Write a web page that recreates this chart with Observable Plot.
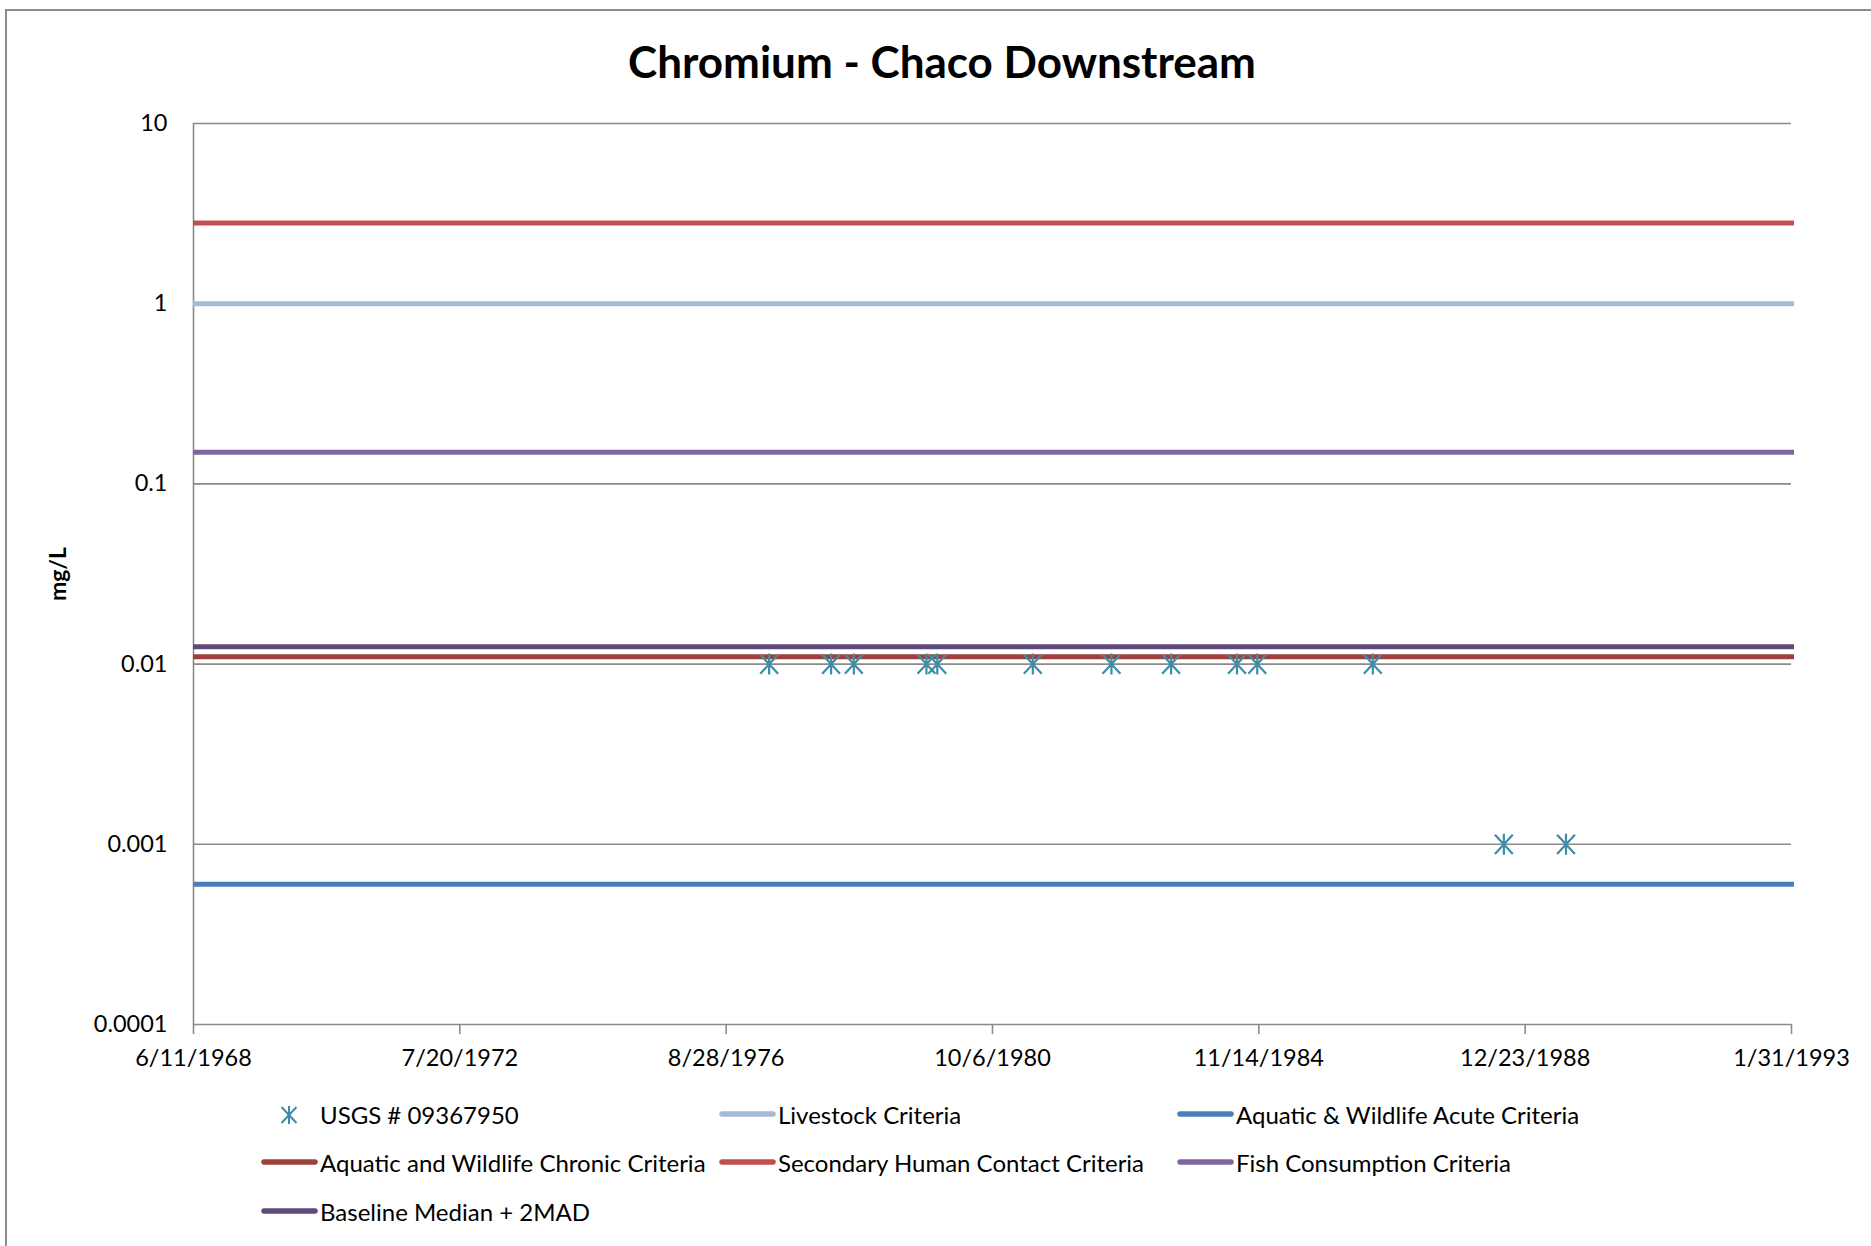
<!DOCTYPE html>
<html>
<head>
<meta charset="utf-8">
<script src="https://cdn.jsdelivr.net/npm/d3@7"></script>
<script src="https://cdn.jsdelivr.net/npm/@observablehq/plot@0.6"></script>
<style>
  html, body { margin: 0; padding: 0; background: #fff; }
  body { width: 1871px; height: 1246px; position: relative; overflow: hidden; font-family: Lato, "Open Sans", sans-serif; color: #000; }
  #border { position: absolute; left: 5px; top: 9px; width: 1920px; height: 1300px; border-left: 2px solid #8c8c8c; border-top: 2px solid #8c8c8c; }
  #title { position: absolute; left: 0; width: 1884px; top: 35px; text-align: center; font-weight: 700; font-size: 44px; line-height: 52px; }
  #ylabel { position: absolute; left: 57px; top: 574px; transform: translate(-50%, -50%) rotate(-90deg); font-weight: 700; font-size: 23px; white-space: nowrap; }
  #chart { position: absolute; left: 0; top: 90px; }
  .item { position: absolute; height: 40px; display: flex; align-items: center; font-size: 24px; white-space: nowrap; }
  .item svg { flex: none; margin-right: 2px; }
</style>
</head>
<body>
<div id="border"></div>
<div id="title">Chromium - Chaco Downstream</div>
<div id="ylabel">mg/L</div>
<div id="chart"></div>
<div id="legend"></div>
<script>
// ---- data ----
const xTickLabels = ["6/11/1968", "7/20/1972", "8/28/1976", "10/6/1980", "11/14/1984", "12/23/1988", "1/31/1993"];
const yTickLabels = ["10", "1", "0.1", "0.01", "0.001", "0.0001"];

const seriesName = "USGS # 09367950";
const sampleDates = ["4/27/1977", "4/11/1978", "8/17/1978", "9/30/1979", "11/30/1979", "5/21/1981",
                     "8/7/1982", "7/9/1983", "7/14/1984", "11/5/1984", "8/18/1986", "8/25/1988", "8/10/1989"];
const sampleValues = [0.01, 0.01, 0.01, 0.01, 0.01, 0.01, 0.01, 0.01, 0.01, 0.01, 0.01, 0.001, 0.001];

const criteriaNames = ["Livestock Criteria", "Aquatic & Wildlife Acute Criteria", "Aquatic and Wildlife Chronic Criteria",
                       "Secondary Human Contact Criteria", "Fish Consumption Criteria", "Baseline Median + 2MAD"];
const criteriaValues = [1, 0.0006, 0.011, 2.8, 0.15, 0.0125];

// ---- styling ----
const criteriaColors = ["#A6B9DB", "#4A7EBB", "#A0403D", "#C0504D", "#8064A2", "#604A7B"];
const markerColor = "#3C8EA6";
const gridColor = "#8a8a8a";

const parseMDY = s => { const [m, d, y] = s.split("/").map(Number); return new Date(Date.UTC(y, m - 1, d)); };
const xTicks = xTickLabels.map(parseMDY);
const xLabelMap = new Map(xTicks.map((d, i) => [+d, xTickLabels[i]]));
const yTicks = yTickLabels.map(Number);
const yLabelMap = new Map(yTicks.map((v, i) => [v, yTickLabels[i]]));

const samples = sampleDates.map((d, i) => ({date: parseMDY(d), value: sampleValues[i]}));
const criteria = criteriaNames.map((n, i) => ({name: n, value: criteriaValues[i]}));

// Excel-like "star" marker: an X plus a vertical bar
const excelStar = {
  draw(ctx, size) {
    const r = Math.sqrt(size / Math.PI);
    const w = 0.85 * r, h = 0.92 * r;
    ctx.moveTo(0, -r); ctx.lineTo(0, r);
    ctx.moveTo(-w, -h); ctx.lineTo(w, h);
    ctx.moveTo(-w, h); ctx.lineTo(w, -h);
  }
};

const chart = Plot.plot({
  width: 1871,
  height: 1000,
  marginLeft: 193,
  marginRight: 80,
  marginTop: 33,
  marginBottom: 66,
  style: {fontFamily: "Lato, 'Open Sans', sans-serif", fontSize: "23.5px", color: "#000", background: "transparent", overflow: "visible"},
  x: {type: "utc", domain: [xTicks[0], xTicks[xTicks.length - 1]]},
  y: {type: "log", domain: [yTicks[yTicks.length - 1], yTicks[0]]},
  color: {domain: criteriaNames, range: criteriaColors},
  marks: [
    Plot.gridY(yTicks, {stroke: gridColor, strokeOpacity: 1, strokeWidth: 1.6}),
    Plot.ruleX([xTicks[0]], {stroke: gridColor, strokeWidth: 1.6}),
    Plot.axisX(xTicks, {tickFormat: d => xLabelMap.get(+d), tickSize: 10, tickPadding: 15, stroke: gridColor, strokeWidth: 1.6, fill: "#000", label: null}),
    Plot.axisY(yTicks, {tickFormat: d => yLabelMap.get(d), tickSize: 0, tickPadding: 26, fill: "#000", label: null}),
    Plot.ruleY(criteria, {y: "value", stroke: "name", strokeWidth: 5, insetRight: -3}),
    Plot.dot(samples, {x: "date", y: "value", symbol: excelStar, r: 10.5, fill: "none", stroke: markerColor, strokeWidth: 2.2})
  ]
});
document.getElementById("chart").appendChild(chart);

// ---- legend ----
const legendItems = [
  {name: seriesName, type: "marker", color: markerColor},
  {name: criteriaNames[0], color: criteriaColors[0]},
  {name: criteriaNames[1], color: criteriaColors[1]},
  {name: criteriaNames[2], color: criteriaColors[2]},
  {name: criteriaNames[3], color: criteriaColors[3]},
  {name: criteriaNames[4], color: criteriaColors[4]},
  {name: criteriaNames[5], color: criteriaColors[5]}
];
const colX = [261, 719, 1177];
const rowY = [1114, 1162, 1211];
const legend = document.getElementById("legend");
legendItems.forEach((it, i) => {
  const col = i % 3, row = Math.floor(i / 3);
  const div = document.createElement("div");
  div.className = "item";
  div.style.left = colX[col] + "px";
  div.style.top = (rowY[row] - 20) + "px";
  let sw;
  if (it.type === "marker") {
    sw = `<svg width="57" height="40"><g transform="translate(28,21)" stroke="${it.color}" stroke-width="2" fill="none">
      <path d="M0,-9L0,9M-7.5,-8L7.5,8M-7.5,8L7.5,-8"/></g></svg>`;
  } else {
    sw = `<svg width="57" height="40"><line x1="3" x2="54" y1="20" y2="20" stroke="${it.color}" stroke-width="5.5" stroke-linecap="round"/></svg>`;
  }
  div.innerHTML = sw + `<span></span>`;
  div.querySelector("span").textContent = it.name;
  legend.appendChild(div);
});
</script>
</body>
</html>
